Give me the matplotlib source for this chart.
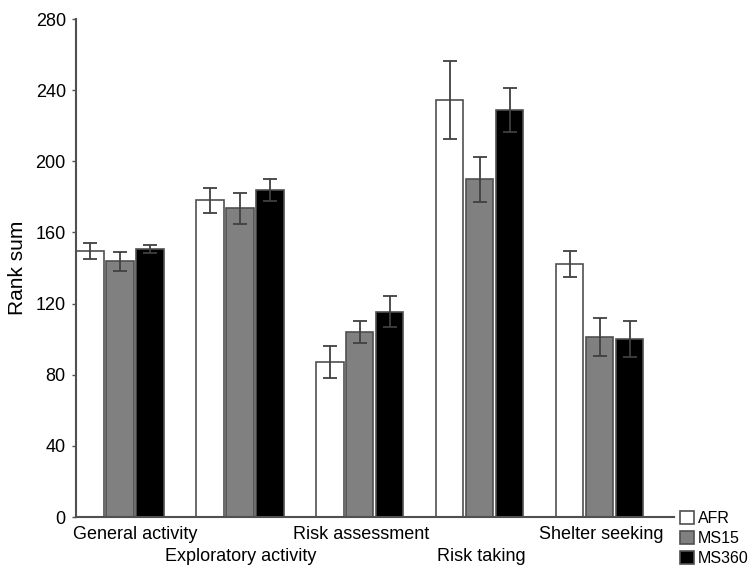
import matplotlib
matplotlib.use("Agg")
import matplotlib.pyplot as plt
import numpy as np

plt.rcParams['font.family'] = ['Liberation Sans', 'DejaVu Sans']

categories = ["General activity", "Exploratory activity", "Risk assessment",
              "Risk taking", "Shelter seeking"]
series = ["AFR", "MS15", "MS360"]
afr = [149.5, 178.2, 87.1, 234.4, 142.2]
afr_err = [4.3, 7.0, 9.0, 22.0, 7.1]
ms15 = [143.7, 173.5, 104.0, 189.8, 101.2]
ms15_err = [5.4, 8.5, 6.4, 12.6, 10.7]
ms360 = [150.5, 183.8, 115.4, 228.8, 100.0]
ms360_err = [2.3, 6.0, 8.8, 12.5, 10.0]
yticks = [0, 40, 80, 120, 160, 200, 240, 280]

fig = plt.figure(figsize=(7.49, 5.65), dpi=100)
ax = fig.add_axes([75.5/749, 48/565, (674-75.5)/749, (517-19)/565])

x = np.arange(len(categories))
width = 0.229
step = 0.25
fills = ["white", "#808080", "black"]
edge = "#505050"
handles = []
for k, (vals, errs) in enumerate([(afr, afr_err), (ms15, ms15_err), (ms360, ms360_err)]):
    pos = x + (k - 1) * step
    b = ax.bar(pos, vals, width, color=fills[k], edgecolor=edge, linewidth=1.2,
               label=series[k], zorder=2)
    ax.errorbar(pos, vals, yerr=errs, fmt='none', ecolor="#404040",
                elinewidth=1.3, capsize=5, capthick=1.3, zorder=3)
    handles.append(b)

ax.set_xlim(-0.37, 4.62)
ax.set_ylim(0, 280)
ax.set_yticks(yticks)
ax.set_yticklabels([str(t) for t in yticks], fontsize=13)
ax.tick_params(axis='y', direction='out', length=3, width=1, color="#505050", pad=4)
ax.set_xticks([])
for s in ["top", "right"]:
    ax.spines[s].set_visible(False)
for s in ["left", "bottom"]:
    ax.spines[s].set_color("#505050")
    ax.spines[s].set_linewidth(1.5)

ax.set_ylabel("Rank sum", fontsize=15, labelpad=6)

trans = ax.get_xaxis_transform()
for i, lab in enumerate(categories):
    ytxt = -0.035 if i % 2 == 0 else -0.079
    if i == 0:
        ax.text(-0.39, ytxt, lab, transform=trans, ha='left', va='center', fontsize=13)
    else:
        ax.text(i + 0.01, ytxt, lab, transform=trans, ha='center', va='center', fontsize=13)

fig.legend(handles=handles, labels=series, loc='center left',
           bbox_to_anchor=(680/749, (565-538.5)/565), frameon=False, fontsize=11.5,
           handlelength=0.9, handleheight=0.9, handletextpad=0.2,
           labelspacing=0.3, borderpad=0, borderaxespad=0)

fig.savefig("out.png", dpi=100)
